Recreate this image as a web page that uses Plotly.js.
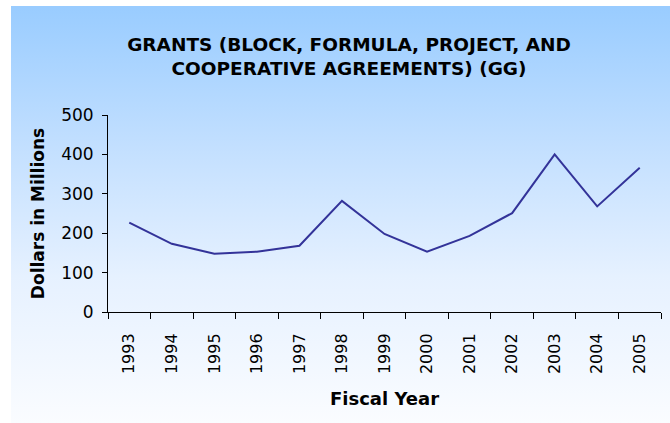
<!DOCTYPE html>
<html>
<head>
<meta charset="utf-8">
<script src="https://cdn.plot.ly/plotly-3.0.1.min.js"></script>
<style>
  html, body { margin: 0; padding: 0; background: #ffffff; }
  #wrap { position: relative; width: 670px; height: 423px; overflow: hidden; }
  #bg { position: absolute; left: 11px; top: 6px; right: 0; bottom: 0;
        background: linear-gradient(to bottom, #99CCFF 0%, #C4E0FF 35%, #E6F1FF 65%, #FAFCFF 100%); }
  #chart { position: absolute; left: 0; top: 0; width: 670px; height: 423px; }
</style>
</head>
<body>
<div id="wrap"><div id="bg"></div><div id="chart"></div></div>
<script>
const years = ["1993","1994","1995","1996","1997","1998","1999","2000","2001","2002","2003","2004","2005"];
const grants = [227, 173, 148, 153, 168, 282, 198, 153, 193, 251, 400, 268, 366];
const yTicks = [0, 100, 200, 300, 400, 500];

const FONT = "DejaVu Sans, Liberation Sans, Arial, sans-serif";

const trace = {
  x: years,
  y: grants,
  type: "scatter",
  mode: "lines",
  line: { color: "#333399", width: 2 },
  hoverinfo: "x+y"
};

const layout = {
  width: 670,
  height: 423,
  paper_bgcolor: "rgba(0,0,0,0)",
  plot_bgcolor: "rgba(0,0,0,0)",
  margin: { l: 108, r: 9, t: 115, b: 110.5, pad: 0 },
  showlegend: false,
  title: {
    text: "<b>GRANTS (BLOCK, FORMULA, PROJECT, AND<br>COOPERATIVE AGREEMENTS) (GG)</b>",
    font: { family: FONT, size: 18.5, color: "#000000" },
    xref: "container", yref: "container",
    x: 349 / 670, xanchor: "center",
    y: 1 - 51 / 423, yanchor: "middle"
  },
  xaxis: {
    type: "category",
    range: [-0.5, years.length - 0.5],
    showline: true, linecolor: "#000000", linewidth: 1,
    showgrid: false, zeroline: false,
    ticks: "outside", ticklen: 6, tickcolor: "#000000",
    tickson: "boundaries",
    tickangle: -90,
    tickfont: { family: FONT, size: 16, color: "#000000" },
    ticklabelstandoff: 14,
    title: { text: "<b>Fiscal Year</b>", font: { family: FONT, size: 18, color: "#000000" }, standoff: 19 }
  },
  yaxis: {
    range: [0, 500],
    tickvals: yTicks,
    ticktext: yTicks.map(String),
    showline: true, linecolor: "#000000", linewidth: 1,
    showgrid: false, zeroline: false,
    ticks: "outside", ticklen: 5, tickcolor: "#000000",
    tickfont: { family: FONT, size: 17, color: "#000000" },
    ticklabelstandoff: 5,
    title: { text: "<b>Dollars in Millions</b>", font: { family: FONT, size: 17, color: "#000000" }, standoff: 12 }
  }
};

Plotly.newPlot("chart", [trace], layout, { displayModeBar: false, staticPlot: true });
</script>
</body>
</html>
